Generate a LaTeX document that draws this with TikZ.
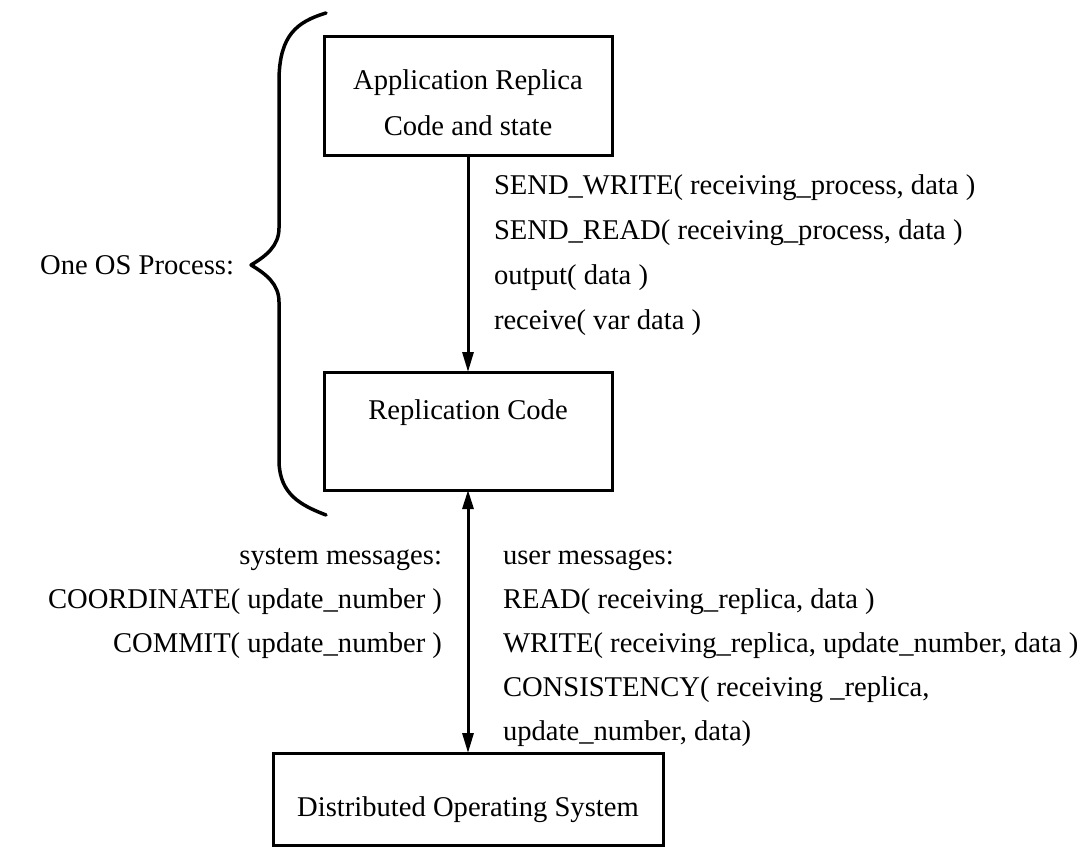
\documentclass[tikz,border=0pt]{standalone}
\usepackage{fontspec}
\setmainfont{Liberation Serif}
\usetikzlibrary{arrows.meta}

\tikzset{
  lbl/.style={inner sep=0pt, outer sep=0pt, font=\fontsize{28.6}{34}\selectfont},
  blk/.style={draw, line width=3pt, inner sep=0pt, outer sep=0pt},
  flow/.style={line width=3pt, -{Triangle[length=20pt,width=11pt]}},
  both/.style={line width=3pt, {Triangle[length=19pt,width=11pt]}-{Triangle[length=20pt,width=11pt]}},
  brace/.style={line width=3.5pt, line cap=round, line join=round}
}

\begin{document}
\begin{tikzpicture}[x=1pt,y=-1pt]
  \useasboundingbox (0,0) rectangle (1092,846);

  % the three layers
  \node[blk, minimum width=288pt, minimum height=119pt] (app) at (468,95.5) {};
  \node[blk, minimum width=288pt, minimum height=118pt] (rep) at (468,431) {};
  \node[blk, minimum width=390pt, minimum height=92pt]  (dos) at (468,799) {};

  \node[lbl, anchor=base] (appA) at (468,89)  {Application Replica};
  \node[lbl, anchor=base] (appB) at (468,135) {Code and state};
  \node[lbl, anchor=base] (repA) at (468,419) {Replication Code};
  \node[lbl, anchor=base] (dosA) at (468,816) {Distributed Operating System};

  % calls from the application into the replication layer
  \draw[flow] (app.south) -- (rep.north);
  \node[lbl, anchor=base west] (c1) at (494,194) {SEND\_WRITE( receiving\_process, data )};
  \node[lbl, anchor=base west] (c2) at (494,239) {SEND\_READ( receiving\_process, data )};
  \node[lbl, anchor=base west] (c3) at (494,284) {output( data )};
  \node[lbl, anchor=base west] (c4) at (494,329) {receive( var data )};

  % messages exchanged with the operating system
  \draw[both] (rep.south) -- (dos.north);
  \node[lbl, anchor=base east] (s0) at (442,564) {system messages:};
  \node[lbl, anchor=base east] (s1) at (442,608) {COORDINATE( update\_number )};
  \node[lbl, anchor=base east] (s2) at (442,652) {COMMIT( update\_number )};

  \node[lbl, anchor=base west] (u0) at (503,564) {user messages:};
  \node[lbl, anchor=base west] (u1) at (503,608) {READ( receiving\_replica, data )};
  \node[lbl, anchor=base west] (u2) at (503,652) {WRITE( receiving\_replica, update\_number, data )};
  \node[lbl, anchor=base west] (u3) at (503,696) {CONSISTENCY( receiving \_replica,};
  \node[lbl, anchor=base west] (u4) at (503,740) {update\_number, data)};

  % brace grouping the process
  \draw[brace] (326,13) .. controls (296,22) and (280,36) .. (279,78)
    -- (279,228) .. controls (279,246) and (266,256) .. (251,265)
    .. controls (266,274) and (279,284) .. (279,302)
    -- (279,462) .. controls (280,494) and (300,505) .. (326,515);
  \coordinate (tip) at (251,265);
  \node[lbl, anchor=base east] (proc) at (234,274) {One OS Process:};
\end{tikzpicture}
\end{document}
